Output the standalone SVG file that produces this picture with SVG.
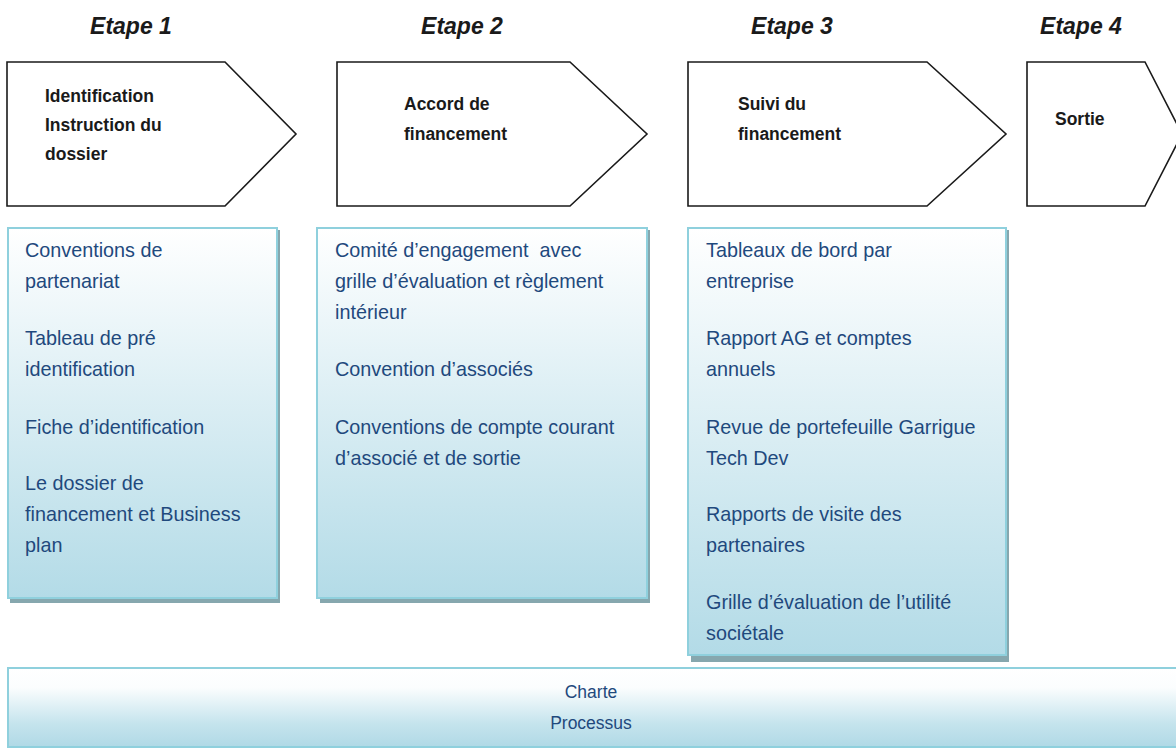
<svg xmlns="http://www.w3.org/2000/svg" width="1176" height="749" viewBox="0 0 1176 749">
<defs>
<linearGradient id="g" x1="0" y1="0" x2="0" y2="1">
<stop offset="0" stop-color="#ffffff"/>
<stop offset="1" stop-color="#b3dbe7"/>
</linearGradient>
<linearGradient id="gb" x1="0" y1="0" x2="0" y2="1">
<stop offset="0" stop-color="#ffffff"/>
<stop offset="0.25" stop-color="#fbfdfe"/>
<stop offset="0.7" stop-color="#c5e4ed"/>
<stop offset="1" stop-color="#b0d9e6"/>
</linearGradient>
<style>
.stage{font-family:"Liberation Sans",Arial,sans-serif;font-size:23px;font-weight:bold;font-style:italic;fill:#1a1a1a;text-anchor:middle}
.pent{fill:#ffffff;stroke:#1a1a1a;stroke-width:1.6}
.pl{font-family:"Liberation Sans",Arial,sans-serif;font-size:17.5px;font-weight:bold;fill:#1a1a1a}
.box{fill:url(#g);stroke:#8fd0dd;stroke-width:2}
.shadow{fill:#86a7ae}
.bt{font-family:"Liberation Sans",Arial,sans-serif;font-size:19.8px;fill:#1f497d;white-space:pre}
.ct{font-family:"Liberation Sans",Arial,sans-serif;font-size:17.5px;fill:#1f497d;text-anchor:middle}
</style>
</defs>
<rect width="1176" height="749" fill="#ffffff"/>

<g id="headers">
<text class="stage" x="131" y="34">Etape 1</text>
<text class="stage" x="462" y="34">Etape 2</text>
<text class="stage" x="792" y="34">Etape 3</text>
<text class="stage" x="1081" y="34">Etape 4</text>
</g>

<g id="step1">
<polygon class="pent" points="7,62 225,62 296,134 225,206 7,206"/>
<text class="pl" x="45" y="102">Identification</text>
<text class="pl" x="45" y="131">Instruction du</text>
<text class="pl" x="45" y="160">dossier</text>
</g>
<g id="step2">
<polygon class="pent" points="337,62 570,62 647,134 570,206 337,206"/>
<text class="pl" x="404" y="110">Accord de</text>
<text class="pl" x="404" y="140">financement</text>
</g>
<g id="step3">
<polygon class="pent" points="688,62 927,62 1006,134 927,206 688,206"/>
<text class="pl" x="738" y="110">Suivi du</text>
<text class="pl" x="738" y="140">financement</text>
</g>
<g id="step4">
<polygon class="pent" points="1027,62 1145,62 1182,134 1145,206 1027,206"/>
<text class="pl" x="1055" y="125">Sortie</text>
</g>

<g id="box1">
<rect class="shadow" x="10" y="230" width="270" height="373"/>
<rect class="box" x="8" y="228" width="269" height="370"/>
<text class="bt" x="25" y="257">Conventions de</text>
<text class="bt" x="25" y="288">partenariat</text>
<text class="bt" x="25" y="345">Tableau de pré</text>
<text class="bt" x="25" y="376">identification</text>
<text class="bt" x="25" y="434">Fiche d’identification</text>
<text class="bt" x="25" y="490">Le dossier de</text>
<text class="bt" x="25" y="521">financement et Business</text>
<text class="bt" x="25" y="552">plan</text>
</g>
<g id="box2">
<rect class="shadow" x="320" y="230" width="330" height="373"/>
<rect class="box" x="317" y="228" width="330" height="370"/>
<text class="bt" x="335" y="257">Comité d’engagement  avec</text>
<text class="bt" x="335" y="288">grille d’évaluation et règlement</text>
<text class="bt" x="335" y="319">intérieur</text>
<text class="bt" x="335" y="376">Convention d’associés</text>
<text class="bt" x="335" y="434">Conventions de compte courant</text>
<text class="bt" x="335" y="465">d’associé et de sortie</text>
</g>
<g id="box3">
<rect class="shadow" x="691" y="230" width="318" height="432"/>
<rect class="box" x="688" y="228" width="318" height="427"/>
<text class="bt" x="706" y="257">Tableaux de bord par</text>
<text class="bt" x="706" y="288">entreprise</text>
<text class="bt" x="706" y="345">Rapport AG et comptes</text>
<text class="bt" x="706" y="376">annuels</text>
<text class="bt" x="706" y="434">Revue de portefeuille Garrigue</text>
<text class="bt" x="706" y="465">Tech Dev</text>
<text class="bt" x="706" y="521">Rapports de visite des</text>
<text class="bt" x="706" y="552">partenaires</text>
<text class="bt" x="706" y="609">Grille d’évaluation de l’utilité</text>
<text class="bt" x="706" y="640">sociétale</text>
</g>
<g id="bottom">
<rect x="8" y="668" width="1172" height="79" fill="url(#gb)" stroke="#8fd0dd" stroke-width="2"/>
<text class="ct" x="591" y="698">Charte</text>
<text class="ct" x="591" y="729">Processus</text>
</g>
<g id="connectors"/>
</svg>
